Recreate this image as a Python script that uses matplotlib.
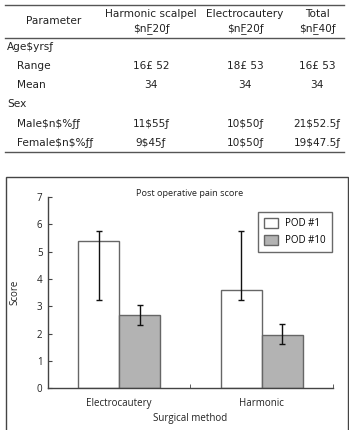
import numpy as np
import matplotlib
matplotlib.use("Agg")
import matplotlib.pyplot as plt
from matplotlib.patches import Rectangle
from matplotlib.lines import Line2D

# table text (garbled as in the source)
col_heads = ["Harmonic scalpel", "Electrocautery", "Total"]
col_subs = ["$nF\u033220\u0192", "$nF\u033220\u0192", "$nF\u033240\u0192"]
row_labels = ["Age$yrs\u0192", "Range", "Mean", "Sex", "Male$n$%\u0192\u0192", "Female$n$%\u0192\u0192"]
row_indent = [False, True, True, False, True, True]
row_vals = [
    ["", "", ""],
    ["16\u00a3 52", "18\u00a3 53", "16\u00a3 53"],
    ["34", "34", "34"],
    ["", "", ""],
    ["11$55\u0192", "10$50\u0192", "21$52.5\u0192"],
    ["9$45\u0192", "10$50\u0192", "19$47.5\u0192"],
]

# chart data
methods = ["Electrocautery", "Harmonic"]
pod1 = [5.39, 3.58]
pod1_lo = [3.22, 3.22]
pod1_hi = [5.76, 5.76]
pod10 = [2.68, 1.96]
pod10_lo = [2.33, 1.62]
pod10_hi = [3.05, 2.34]

W, H = 349, 430
fig = plt.figure(figsize=(W / 100, H / 100), dpi=100)

def fx(px):
    return px / W

def fy(py):
    return 1 - py / H

# ---- table ----
tfont = dict(family="DejaVu Sans", size=7.6, color="#222222", parse_math=False)
for yy in (5, 37.5, 152):
    fig.add_artist(Line2D([fx(5), fx(344)], [fy(yy), fy(yy)], color="#555555", lw=1.0))
fig.text(fx(54), fy(21), "Parameter", ha="center", va="center", **tfont)
col_x = [151, 245, 317]
for cx, h, s in zip(col_x, col_heads, col_subs):
    fig.text(fx(cx), fy(14), h, ha="center", va="center", **tfont)
    fig.text(fx(cx), fy(29), s, ha="center", va="center", **tfont)
row_y = [47, 66, 85, 104, 124, 143]
for ry, lab, ind, vals in zip(row_y, row_labels, row_indent, row_vals):
    fig.text(fx(17 if ind else 7), fy(ry), lab, ha="left", va="center", **tfont)
    for cx, v in zip(col_x, vals):
        fig.text(fx(cx), fy(ry), v, ha="center", va="center", **tfont)

# ---- chart frame ----
fig.add_artist(Rectangle((fx(6), fy(440)), fx(342), fy(177) - fy(440),
                         fill=False, edgecolor="#444444", lw=1.0))

cfont = "Open Sans"
ax = fig.add_axes([fx(48), fy(388.3), fx(333) - fx(48), fy(197) - fy(388.3)])
x = np.arange(len(methods))
bw = 0.287
err1 = [np.array(pod1) - np.array(pod1_lo), np.array(pod1_hi) - np.array(pod1)]
err10 = [np.array(pod10) - np.array(pod10_lo), np.array(pod10_hi) - np.array(pod10)]
ax.bar(x - bw / 2, pod1, bw, color="white", edgecolor="#666666", lw=1.0,
       yerr=err1, capsize=2.2, error_kw=dict(ecolor="#111111", elinewidth=1.0, capthick=1.0),
       label="POD #1")
ax.bar(x + bw / 2, pod10, bw, color="#b3b3b3", edgecolor="#666666", lw=1.0,
       yerr=err10, capsize=2.2, error_kw=dict(ecolor="#111111", elinewidth=1.0, capthick=1.0),
       label="POD #10")

ax.set_xlim(-0.5, 1.5)
ax.set_ylim(0, 7)
ax.set_xticks(x)
ax.set_xticklabels(methods, family=cfont, fontsize=7, color="#222222")
ax.set_xticks([0.5, 1.5], minor=True)
ax.tick_params(axis="x", which="major", length=0, pad=7)
ax.tick_params(axis="x", which="minor", direction="in", length=3, color="#444444")
ax.set_yticks(range(8))
ax.set_yticklabels([str(i) for i in range(8)], family=cfont, fontsize=7, color="#222222")
ax.tick_params(axis="y", direction="in", length=3, color="#444444", pad=4)
for s in ("top", "right"):
    ax.spines[s].set_visible(False)
for s in ("left", "bottom"):
    ax.spines[s].set_color("#444444")
    ax.spines[s].set_linewidth(1.0)
ax.set_xlabel("Surgical method", family=cfont, fontsize=7, color="#222222", labelpad=3)
ax.set_ylabel("Score", family=cfont, fontsize=7, color="#222222", labelpad=12)
fig.text(fx(190), fy(194), "Post operative pain score", ha="center", va="center",
         family=cfont, fontsize=6.6, color="#222222")
leg = ax.legend(loc="upper right", bbox_to_anchor=(0.996, 0.922), borderaxespad=0,
                fancybox=False, prop=dict(family=cfont, size=7), handlelength=1.4,
                handleheight=1.2, labelspacing=0.6, borderpad=0.6)
leg.get_frame().set_edgecolor("#444444")
leg.get_frame().set_linewidth(1.0)

fig.savefig("out.png", dpi=100)
